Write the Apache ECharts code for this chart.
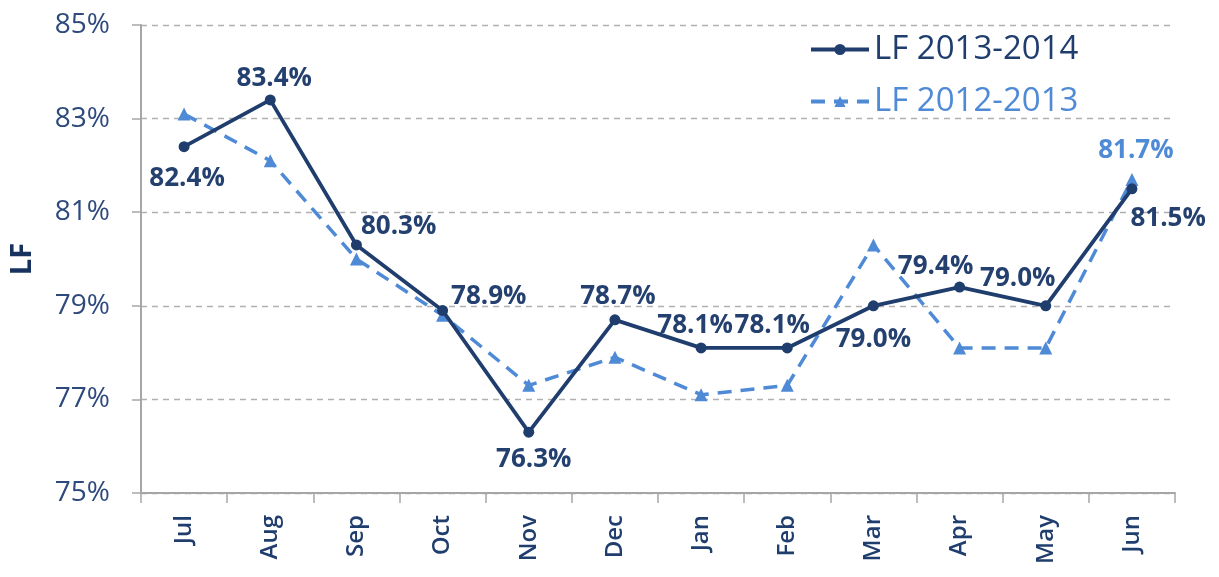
<!DOCTYPE html>
<html>
<head>
<meta charset="utf-8">
<script src="https://cdn.jsdelivr.net/npm/echarts@6/dist/echarts.min.js"></script>
<style>
  html, body { margin: 0; padding: 0; background: #fff; }
  #main { width: 1219px; height: 577px; }
</style>
</head>
<body>
<div id="main"></div>
<script>
  // months of the fiscal year
  var months = ['Jul', 'Aug', 'Sep', 'Oct', 'Nov', 'Dec', 'Jan', 'Feb', 'Mar', 'Apr', 'May', 'Jun'];
  // load factor, %
  var lf1314 = [82.4, 83.4, 80.3, 78.9, 76.3, 78.7, 78.1, 78.1, 79.0, 79.4, 79.0, 81.5];
  var lf1213 = [83.1, 82.1, 80.0, 78.8, 77.3, 77.9, 77.1, 77.3, 80.3, 78.1, 78.1, 81.7];
  var yTicks = [75, 77, 79, 81, 83, 85];

  var navy = '#1f3d6d';
  var lightBlue = '#4f8ad6';
  var font = '"Open Sans", sans-serif';

  // where each 2013-2014 label sits relative to its point
  var labelPlace = [
    {position: 'bottom', offset: [3, 8]},
    {position: 'top', offset: [4, 2]},
    {position: 'right', offset: [-6, -18]},
    {position: 'right', offset: [-2, -14]},
    {position: 'bottom', offset: [5, 4]},
    {position: 'top', offset: [3, 0]},
    {position: 'top', offset: [-6, 1]},
    {position: 'top', offset: [-15, 1]},
    {position: 'bottom', offset: [0, 10]},
    {position: 'top', offset: [-24, 3]},
    {position: 'top', offset: [-28, -4]},
    {position: 'right', offset: [-12, 30]}
  ];

  var myChart = echarts.init(document.getElementById('main'));

  var option = {
    animation: false,
    grid: {
      left: 141,
      right: 44,
      top: 25,
      bottom: 84
    },
    legend: {
      orient: 'vertical',
      left: 804,
      top: 28,
      itemWidth: 58,
      itemHeight: 14,
      itemGap: 19,
      textStyle: {fontFamily: font, fontSize: 33},
      lineStyle: {width: 4},
      data: [
        {name: 'LF 2013-2014', textStyle: {color: navy}},
        {name: 'LF 2012-2013', textStyle: {color: lightBlue}}
      ]
    },
    xAxis: {
      type: 'category',
      data: months,
      boundaryGap: true,
      axisLine: {lineStyle: {color: '#a6a6a6', width: 2}},
      axisTick: {show: true, interval: 0, length: 10, lineStyle: {color: '#a6a6a6', width: 1.5}},
      axisLabel: {
        rotate: 90,
        interval: 0,
        margin: 22,
        color: navy,
        fontFamily: font,
        fontSize: 24,
        fontWeight: 600
      }
    },
    yAxis: {
      type: 'value',
      min: 75,
      max: 85,
      interval: 2,
      name: 'LF',
      nameLocation: 'middle',
      nameGap: 104,
      nameTextStyle: {color: '#17325e', fontFamily: font, fontSize: 29, fontWeight: 'bold'},
      axisLine: {show: true, lineStyle: {color: '#a6a6a6', width: 2}},
      axisTick: {show: true, length: 9, lineStyle: {color: '#a6a6a6', width: 1.5}},
      axisLabel: {
        margin: 31,
        color: '#2e4a7c',
        fontFamily: font,
        fontSize: 28,
        formatter: function (v) {
          return yTicks.indexOf(v) >= 0 ? v + '%' : '';
        }
      },
      splitLine: {show: true, lineStyle: {color: '#b0b0b0', type: [6, 5], width: 1.3}}
    },
    series: [
      {
        name: 'LF 2012-2013',
        type: 'line',
        z: 2,
        symbol: 'triangle',
        symbolSize: 13,
        itemStyle: {color: lightBlue},
        lineStyle: {color: lightBlue, width: 3.5, type: [14, 9]},
        data: lf1213.map(function (v, i) {
          var item = {value: v};
          if (i === lf1213.length - 1) {
            item.label = {
              show: true,
              position: 'top',
              offset: [4, -4],
              color: lightBlue,
              fontFamily: font,
              fontSize: 26,
              fontWeight: 'bold',
              formatter: function (p) { return p.value.toFixed(1) + '%'; }
            };
          }
          return item;
        })
      },
      {
        name: 'LF 2013-2014',
        type: 'line',
        z: 3,
        symbol: 'circle',
        symbolSize: 11,
        itemStyle: {color: navy},
        lineStyle: {color: navy, width: 3.8},
        label: {
          show: true,
          color: '#24406f',
          fontFamily: font,
          fontSize: 26,
          fontWeight: 'bold',
          formatter: function (p) { return p.value.toFixed(1) + '%'; }
        },
        data: lf1314.map(function (v, i) {
          return {value: v, label: labelPlace[i]};
        })
      }
    ]
  };

  myChart.setOption(option);
</script>
</body>
</html>
